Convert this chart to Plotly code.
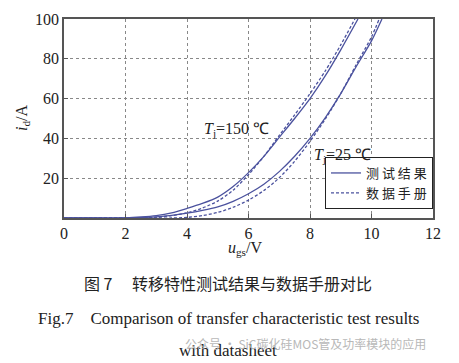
import plotly.graph_objects as go

# ---- data ----
ugs_150_test = [0, 1, 2, 2.5, 3, 3.5, 4, 4.5, 5, 5.5, 6, 6.5, 7, 7.5, 8, 8.5, 9, 9.56]
id_150_test = [0, 0, 0.1, 0.5, 1.2, 2.6, 4.8, 7.3, 10.5, 15.8, 22.8, 31, 40.5, 50, 60, 71.5, 84.5, 100]

ugs_150_ds = [0, 1, 2, 2.5, 3, 3.5, 4, 4.5, 5, 5.5, 6, 6.5, 7, 7.5, 8, 8.5, 9, 9.46]
id_150_ds = [0, 0, 0, 0, 0.4, 1.2, 2.6, 5, 8.5, 14, 21.8, 31, 41.5, 51.8, 62.5, 74, 87, 100]

ugs_25_test = [0, 1, 2, 2.5, 3, 3.5, 4, 4.5, 5, 5.5, 6, 6.5, 7, 7.5, 8, 8.5, 9, 9.5, 10, 10.34]
id_25_test = [0, 0, 0, 0.2, 0.6, 1.3, 2.4, 3.8, 5.6, 8.4, 12.2, 17, 23.3, 31, 40, 50.5, 62.5, 76, 89, 100]

ugs_25_ds = [0, 1, 2, 3, 3.5, 4, 4.5, 5, 5.5, 6, 6.5, 7, 7.5, 8, 8.5, 9, 9.5, 10, 10.25]
id_25_ds = [0, 0, 0, 0, 0, 0.3, 1.2, 2.8, 5.4, 9, 13.8, 20.2, 28.5, 38.5, 49.8, 62.5, 77, 91, 100]

x_ticks = [0, 2, 4, 6, 8, 10, 12]
y_ticks = [20, 40, 60, 80, 100]

legend_names = ["测 试 结 果", "数 据 手 册"]

LINE = "#4b529e"
SERIF = "Liberation Serif"
CJK = "Noto Sans CJK SC"

fig = go.Figure()
fig.add_trace(go.Scatter(x=ugs_150_test, y=id_150_test, mode="lines", line=dict(color=LINE, width=1.3, shape="spline", smoothing=0.8),
                         name=legend_names[0], legendgroup="t"))
fig.add_trace(go.Scatter(x=ugs_150_ds, y=id_150_ds, mode="lines", line=dict(color=LINE, width=1.3, dash="3px,2px", shape="spline", smoothing=0.8),
                         name=legend_names[1], legendgroup="d"))
fig.add_trace(go.Scatter(x=ugs_25_test, y=id_25_test, mode="lines", line=dict(color=LINE, width=1.3, shape="spline", smoothing=0.8),
                         showlegend=False, legendgroup="t"))
fig.add_trace(go.Scatter(x=ugs_25_ds, y=id_25_ds, mode="lines", line=dict(color=LINE, width=1.3, dash="3px,2px", shape="spline", smoothing=0.8),
                         showlegend=False, legendgroup="d"))

# page body adds an 8px offset; the figure fills the window from there
OFF = 8
W, H = 459 - 2 * OFF, 363 - OFF
L = 64 - OFF
T = 19 - OFF
R = (W + OFF) - 433
B = (H + OFF) - 218
ph = H - T - B
pw = W - L - R

def py(p):  # window pixel -> paper y
    return (H - B - (p - OFF)) / ph

def px(p):  # window pixel -> paper x
    return ((p - OFF) - L) / pw

axis_common = dict(showline=True, mirror=True, linecolor="#555555", linewidth=1.5,
                   showgrid=True, gridcolor="#888888", gridwidth=1, griddash="dot",
                   ticks="inside", ticklen=4, tickcolor="#555555", zeroline=False,
                   automargin=False,
                   tickfont=dict(family=SERIF, size=16, color="#222222"))

fig.update_xaxes(range=[0, 12], tickvals=x_ticks, **axis_common)
fig.update_yaxes(range=[0, 100], tickvals=y_ticks, **axis_common)

def ann(text, x, y, font, ref="paper", **kw):
    d = dict(text=text, x=x, y=y, xref=ref if ref == "paper" else "x", yref=ref if ref == "paper" else "y",
             showarrow=False, xanchor="center", yanchor="middle", font=font)
    d.update(kw)
    return d

annotations = [
    ann("<i>T</i><sub>j</sub>=150 ℃", 5.6, 44.7, dict(family=SERIF, size=16, color="#222222"), ref="data"),
    ann("<i>T</i><sub>j</sub>=25 ℃", 9.05, 31.6, dict(family=SERIF, size=16, color="#222222"), ref="data"),
    ann("<i>u</i><sub>gs</sub>/V", px(245), py(248), dict(family=SERIF, size=16, color="#222222")),
    ann("<i>i</i><sub>d</sub>/A", px(22), py(118), dict(family=SERIF, size=16, color="#222222"), textangle=-90),
    ann("图 7　 转移特性测试结果与数据手册对比", px(228), py(283), dict(family=CJK, size=16, color="#222222")),
    ann("Fig.7    Comparison of transfer characteristic test results", px(228), py(318),
        dict(family=SERIF, size=17, color="#222222")),
    ann("with datasheet", px(228), py(350), dict(family=SERIF, size=17, color="#222222")),
    ann("公众号 · SiC碳化硅MOS管及功率模块的应用", px(305), py(343), dict(family=CJK, size=12, color="#b8b8b8")),
]

fig.update_layout(
    width=W, height=H,
    margin=dict(l=L, r=R, t=T, b=B),
    paper_bgcolor="white", plot_bgcolor="white",
    showlegend=True,
    legend=dict(x=1, xanchor="right", y=py(209), yanchor="bottom",
                bgcolor="white", bordercolor="#222222", borderwidth=1,
                font=dict(family=CJK, size=13, color="#222222"),
                tracegroupgap=0, itemwidth=30),
    annotations=annotations,
)

fig.write_html("out.html")
